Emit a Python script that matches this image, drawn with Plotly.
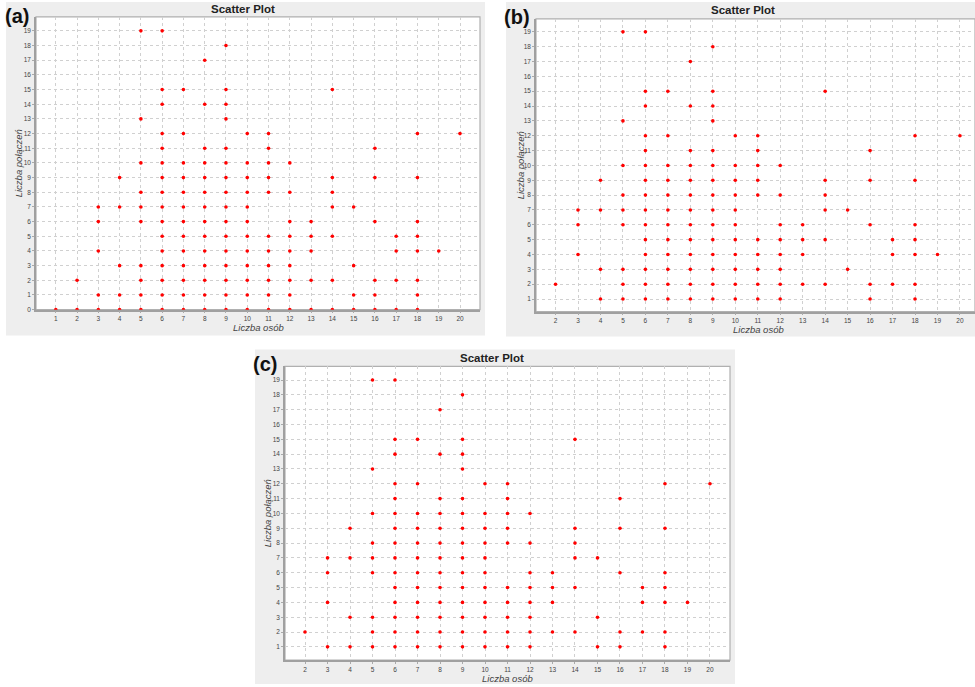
import plotly.graph_objects as go

# ---------------- data ----------------
# panel (a): number of people (x) vs number of connections (y)
a_x = ([1] + [2]*2 + [3]*5 + [4]*5 + [5]*10 + [6]*16 + [7]*13 + [8]*14 + [9]*16 + [10]*12
       + [11]*11 + [12]*9 + [13]*5 + [14]*7 + [15]*4 + [16]*6 + [17]*4 + [18]*8 + [19] + [20])
a_y = ([0]
       + [0, 2]
       + [0, 1, 4, 6, 7]
       + [0, 1, 3, 7, 9]
       + [0, 1, 2, 3, 6, 7, 8, 10, 13, 19]
       + [0, 1, 2, 3, 4, 5, 6, 7, 8, 9, 10, 11, 12, 14, 15, 19]
       + [0, 1, 2, 3, 4, 5, 6, 7, 8, 9, 10, 12, 15]
       + [0, 1, 2, 3, 4, 5, 6, 7, 8, 9, 10, 11, 14, 17]
       + [0, 1, 2, 3, 4, 5, 6, 7, 8, 9, 10, 11, 13, 14, 15, 18]
       + [0, 1, 2, 3, 4, 5, 6, 7, 8, 9, 10, 12]
       + [0, 1, 2, 3, 4, 5, 8, 9, 10, 11, 12]
       + [0, 1, 2, 3, 4, 5, 6, 8, 10]
       + [0, 2, 4, 5, 6]
       + [0, 2, 5, 7, 8, 9, 15]
       + [0, 1, 3, 7]
       + [0, 1, 2, 6, 9, 11]
       + [0, 2, 4, 5]
       + [0, 1, 2, 4, 5, 6, 9, 12]
       + [4]
       + [12])

# panel (b)
b_x = ([2] + [3]*3 + [4]*4 + [5]*9 + [6]*15 + [7]*12 + [8]*13 + [9]*15 + [10]*11 + [11]*10
       + [12]*8 + [13]*4 + [14]*6 + [15]*2 + [16]*5 + [17]*3 + [18]*7 + [19] + [20])
b_y = ([2]
       + [4, 6, 7]
       + [1, 3, 7, 9]
       + [1, 2, 3, 6, 7, 8, 10, 13, 19]
       + [1, 2, 3, 4, 5, 6, 7, 8, 9, 10, 11, 12, 14, 15, 19]
       + [1, 2, 3, 4, 5, 6, 7, 8, 9, 10, 12, 15]
       + [1, 2, 3, 4, 5, 6, 7, 8, 9, 10, 11, 14, 17]
       + [1, 2, 3, 4, 5, 6, 7, 8, 9, 10, 11, 13, 14, 15, 18]
       + [1, 2, 3, 4, 5, 6, 7, 8, 9, 10, 12]
       + [1, 2, 3, 4, 5, 8, 9, 10, 11, 12]
       + [1, 2, 3, 4, 5, 6, 8, 10]
       + [2, 4, 5, 6]
       + [2, 5, 7, 8, 9, 15]
       + [3, 7]
       + [1, 2, 6, 9, 11]
       + [2, 4, 5]
       + [1, 2, 4, 5, 6, 9, 12]
       + [4]
       + [12])

# panel (c)
c_x = ([2] + [3]*4 + [4]*4 + [5]*9 + [6]*15 + [7]*12 + [8]*13 + [9]*15 + [10]*11 + [11]*10
       + [12]*8 + [13]*4 + [14]*6 + [15]*3 + [16]*5 + [17]*3 + [18]*7 + [19] + [20])
c_y = ([2]
       + [1, 4, 6, 7]
       + [1, 3, 7, 9]
       + [1, 2, 3, 6, 7, 8, 10, 13, 19]
       + [1, 2, 3, 4, 5, 6, 7, 8, 9, 10, 11, 12, 14, 15, 19]
       + [1, 2, 3, 4, 5, 6, 7, 8, 9, 10, 12, 15]
       + [1, 2, 3, 4, 5, 6, 7, 8, 9, 10, 11, 14, 17]
       + [1, 2, 3, 4, 5, 6, 7, 8, 9, 10, 11, 13, 14, 15, 18]
       + [1, 2, 3, 4, 5, 6, 7, 8, 9, 10, 12]
       + [1, 2, 3, 4, 5, 8, 9, 10, 11, 12]
       + [1, 2, 3, 4, 5, 6, 8, 10]
       + [2, 4, 5, 6]
       + [2, 5, 7, 8, 9, 15]
       + [1, 3, 7]
       + [1, 2, 6, 9, 11]
       + [2, 4, 5]
       + [1, 2, 4, 5, 6, 9, 12]
       + [4]
       + [12])

panel_labels = ["(a)", "(b)", "(c)"]
chart_title = "Scatter Plot"
x_title = "Liczba osób"
y_title = "Liczba połączeń"

# ---------------- layout ----------------
W, H = 975, 687

def px(x):
    return x / W

def py(y):
    return 1 - y / H

panels = [
    dict(plot=(36, 480, 17, 311), box=(6, 485, 2, 337), xr=[0.07, 20.94], yr=[0, 19.95],
         title_xy=(243, 9), xt_xy=(258, 329), yt_x=18, lab_xy=(17, 16)),
    dict(plot=(536, 975, 19, 313), box=(506, 975, 2, 338), xr=[1.13, 20.67], yr=[0.15, 19.87],
         title_xy=(743, 10), xt_xy=(758, 331), yt_x=520, lab_xy=(517, 17)),
    dict(plot=(285, 730, 368, 663), box=(255, 735, 351, 687), xr=[1.11, 20.89], yr=[0.107, 19.92],
         title_xy=(492, 360), xt_xy=(508, 681), yt_x=267, lab_xy=(265, 366)),
]
data = [(a_x, a_y), (b_x, b_y), (c_x, c_y)]

fig = go.Figure()
shapes = []
annotations = []
layout_axes = {}
font_fam = "Liberation Sans, Arial, sans-serif"

for i, (p, (xs, ys)) in enumerate(zip(panels, data)):
    n = "" if i == 0 else str(i + 1)
    xa, ya = "x" + n, "y" + n
    l, r, t, b = p["plot"]
    bl, br, bt, bb = p["box"]
    shapes.append(dict(type="rect", xref="paper", yref="paper", layer="below",
                       x0=px(bl), x1=px(br), y0=py(bb), y1=py(bt),
                       fillcolor="#eeeeee", line=dict(width=0)))
    shapes.append(dict(type="rect", xref="paper", yref="paper", layer="below",
                       x0=px(l), x1=px(r), y0=py(b), y1=py(t),
                       fillcolor="white", line=dict(color="#b0b0b0", width=1.2)))
    fig.add_trace(go.Scatter(x=xs, y=ys, mode="markers", xaxis=xa, yaxis=ya,
                             marker=dict(color="#ff0000", size=3.6, line=dict(width=0)),
                             showlegend=False, cliponaxis=True))
    axis_common = dict(showgrid=True, gridcolor="#d0d0d0", griddash="dot", gridwidth=1,
                       zeroline=False, showline=True, linecolor="#a0a0a0", linewidth=1.5,
                       ticks="outside", ticklen=2, tickcolor="#aaaaaa", dtick=1, tick0=0,
                       tickfont=dict(size=6.5, color="#444444", family=font_fam),
                       fixedrange=True)
    layout_axes["xaxis" + n] = dict(axis_common, domain=[px(l), px(r)], range=p["xr"],
                                    anchor=ya)
    layout_axes["yaxis" + n] = dict(axis_common, domain=[py(b), py(t)], range=p["yr"],
                                    anchor=xa)
    tx, ty = p["title_xy"]
    annotations.append(dict(text="<b>" + chart_title + "</b>", x=px(tx), y=py(ty),
                            xref="paper", yref="paper", showarrow=False,
                            xanchor="center", yanchor="middle",
                            font=dict(size=11.5, color="#222222", family=font_fam)))
    xtx, xty = p["xt_xy"]
    annotations.append(dict(text="<i>" + x_title + "</i>", x=px(xtx), y=py(xty),
                            xref="paper", yref="paper", showarrow=False,
                            xanchor="center", yanchor="middle",
                            font=dict(size=9.5, color="#444444", family=font_fam)))
    annotations.append(dict(text="<i>" + y_title + "</i>", x=px(p["yt_x"]), y=py((t + b) / 2),
                            xref="paper", yref="paper", showarrow=False, textangle=-90,
                            xanchor="center", yanchor="middle",
                            font=dict(size=9.5, color="#444444", family=font_fam)))
    lx, ly = p["lab_xy"]
    annotations.append(dict(text="<b>" + panel_labels[i] + "</b>", x=px(lx), y=py(ly),
                            xref="paper", yref="paper", showarrow=False,
                            xanchor="center", yanchor="middle",
                            font=dict(size=20, color="#111111", family=font_fam)))

fig.update_layout(width=W, height=H, margin=dict(l=0, r=0, t=0, b=0),
                  paper_bgcolor="white", plot_bgcolor="rgba(0,0,0,0)",
                  shapes=shapes, annotations=annotations, **layout_axes)

fig.write_html("out.html", config={"displayModeBar": False},
               post_script="document.body.style.margin='0';document.body.style.overflow='hidden';")
